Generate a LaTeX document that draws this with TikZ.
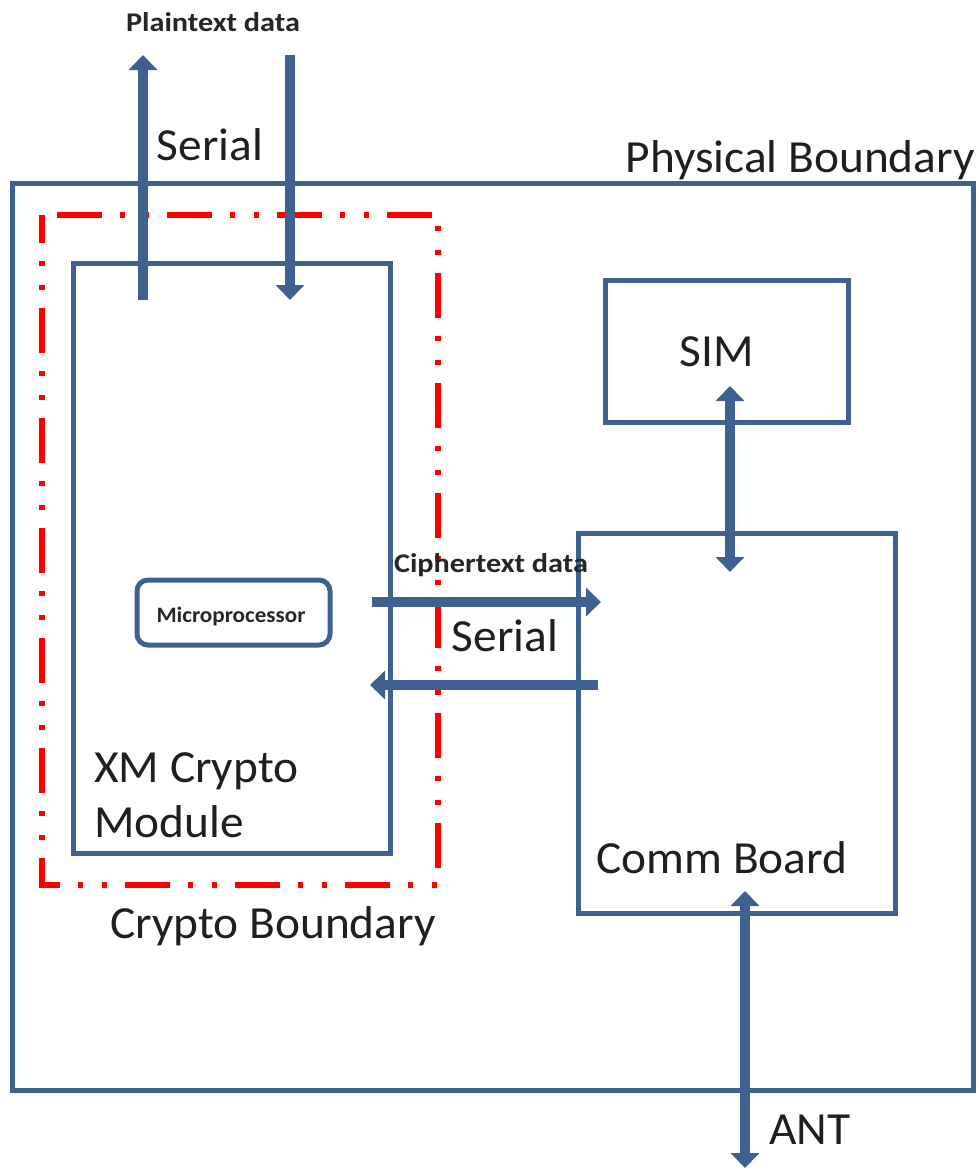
\documentclass[tikz,border=0pt]{standalone}
\usepackage{fontspec}
\setmainfont{Carlito}
\usetikzlibrary{arrows.meta}
\definecolor{boxblue}{RGB}{62,97,145}
\definecolor{redline}{RGB}{255,0,0}
\begin{document}
\begin{tikzpicture}[x=1pt,y=-1pt,
  box/.style={draw=boxblue,line width=5pt,inner sep=0pt,anchor=center},
  bigtext/.style={font=\fontsize{46}{50}\selectfont,inner sep=0pt,text=black!88,xscale=1.03},
  smalltext/.style={font=\bfseries\fontsize{27}{28}\selectfont,inner sep=0pt,text=black!85,xscale=1.12},
  arr/.style={draw=boxblue,line width=10pt,-{Triangle[width=28pt,length=15pt]}},
  darr/.style={draw=boxblue,line width=10pt,{Triangle[width=28pt,length=15pt]}-{Triangle[width=28pt,length=15pt]}},
  cryptob/.style={draw=redline,line width=6pt,dash pattern=on 45pt off 18pt on 5pt off 19pt on 5pt off 18pt,dash phase=95pt}]
\useasboundingbox (0,0) rectangle (979,1170);
% boxes
\node[box,minimum width=961pt,minimum height=907pt] (phys) at (492.5,636.5) {};
\node[inner sep=0pt,minimum width=396pt,minimum height=670pt] (crypto) at (240,550) {};
\draw[cryptob] (crypto.north west) -- (crypto.north east) -- (crypto.south east) -- (crypto.south west) -- cycle;
\node[box,minimum width=317pt,minimum height=590pt] (xm) at (231.5,558) {};
\node[box,minimum width=243pt,minimum height=142pt] (sim) at (726.5,351) {};
\node[box,minimum width=317pt,minimum height=380pt] (comm) at (736.5,723) {};
\node[box,minimum width=193pt,minimum height=65pt,rounded corners=11pt] (micro) at (233.5,612.5) {};
% labels
\node[smalltext] (plainlbl) at (213,22) {Plaintext data};
\node[bigtext] (serial1) at (210,145) {Serial};
\node[bigtext,anchor=east] (physlbl) at (975,160) {Physical Boundary};
\node[bigtext] (simlbl) at (717,352) {SIM};
\node[smalltext] (ciphlbl) at (491,565) {Ciphertext data};
\node[font=\bfseries\fontsize{22}{24}\selectfont,inner sep=0pt,text=black!85,xscale=1.05] (microlbl) at (231,617) {Microprocessor};
\node[bigtext] (serial2) at (505,636) {Serial};
\node[bigtext,align=left,anchor=north west,font=\fontsize{46}{55}\selectfont] (xmlbl) at (94,752) {XM Crypto\\Module};
\node[bigtext] (cryptolbl) at (273,926) {Crypto Boundary};
\node[bigtext] (commlbl) at (722,858) {Comm Board};
\node[bigtext] (antlbl) at (810,1130) {ANT};
% connector end points
\coordinate (pt1s) at (143,300);
\coordinate (pt1e) at (143,55);
\coordinate (pt2s) at (290,55);
\coordinate (pt2e) at (290,300);
\coordinate (c1s) at (372,602);
\coordinate (c1e) at (601,602);
\coordinate (c2s) at (598,685);
\coordinate (c2e) at (370,685);
\coordinate (sims) at (730,386);
\coordinate (sime) at (730,572);
\coordinate (ants) at (745,891);
\coordinate (ante) at (745,1168);
% connectors
\draw[arr] (pt1s) -- (pt1e);
\draw[arr] (pt2s) -- (pt2e);
\draw[arr] (c1s) -- (c1e);
\draw[arr] (c2s) -- (c2e);
\draw[darr] (sims) -- (sime);
\draw[darr] (ants) -- (ante);
\end{tikzpicture}
\end{document}
